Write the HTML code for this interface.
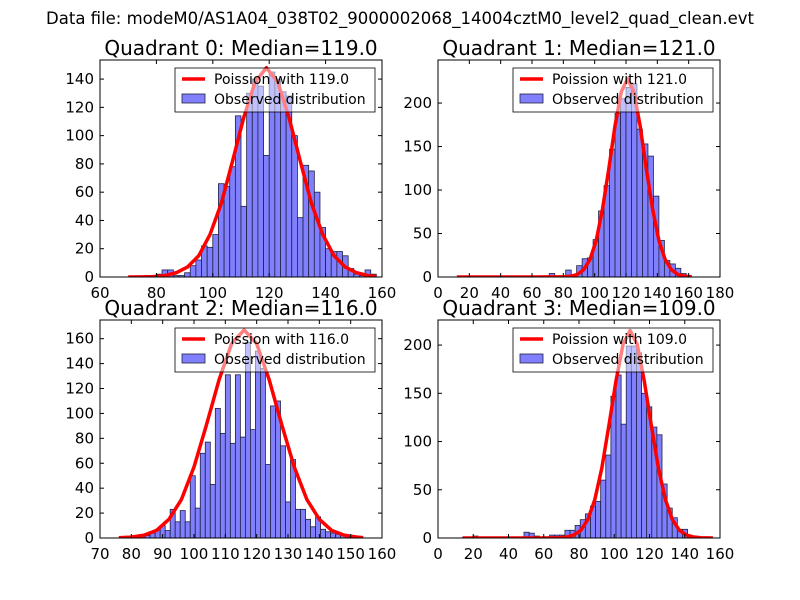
<!DOCTYPE html>
<html><head><meta charset="utf-8"><style>
body{margin:0;background:#fff;}
svg{display:block;font-family:"DejaVu Sans","Liberation Sans",sans-serif;}
</style></head><body>
<svg id="fig" width="800" height="600" viewBox="0 0 800 600">
<rect width="800" height="600" fill="#fff"/>
<text x="400" y="24" font-size="16.5" text-anchor="middle">Data file: modeM0/AS1A04_038T02_9000002068_14004cztM0_level2_quad_clean.evt</text>
</svg>
<script>
// Quadrant 0
const q0BinStart = 70, q0BinWidth = 2;
const q0Counts = [0,0,0,0,1,2,5,5,1,1,3,8,12,22,21,30,66,64,78,114,50,130,140,135,86,145,140,131,128,100,42,79,75,60,35,20,18,18,15,6,2,1,5,2];
const q0CurveX = [70,75,79,83,87,91,95,99,103,107,111,115,119,123,127,131,135,139,143,147,151,155,158];
const q0CurveY = [0,0.1,0.3,1,3,7,15,30,52,82,113,138,148,138,113,82,52,30,15,7,3,1,0.3];
const q0XTicks = [60,80,100,120,140,160];
const q0YTicks = [0,20,40,60,80,100,120,140];
// Quadrant 1
const q1BinStart = 71, q1BinWidth = 3.5;
const q1Counts = [4,1,0,8,1,13,21,22,43,76,105,147,188,205,218,222,170,153,139,93,42,19,15,10,4];
const q1CurveX = [12,60,81,85,89,93,97,101,105,109,113,117,121,125,129,133,137,141,145,149,153,157,162];
const q1CurveY = [0,0,0.3,1,3,8.4,20,42,78,124,174,213,228,213,174,124,78,42,20,8.4,3,1,0.3];
const q1XTicks = [0,20,40,60,80,100,120,140,160,180];
const q1YTicks = [0,50,100,150,200];
// Quadrant 2
const q2BinStart = 79.6, q2BinWidth = 1.6;
const q2Counts = [1,0,1,2,4,7,10,6,23,13,22,13,50,24,68,77,43,104,84,131,76,131,81,157,87,150,136,59,106,110,74,29,63,23,23,15,9,17,7,5,4,3,2,1];
const q2CurveX = [76,80,84,88,92,96,100,104,108,112,116,120,124,128,132,136,140,144,148,152,154];
const q2CurveY = [0.2,0.7,2.2,6,15,31,57,91,127,156,167,156,127,91,57,31,15,6,2.2,0.7,0.3];
const q2XTicks = [70,80,90,100,110,120,130,140,150,160];
const q2YTicks = [0,20,40,60,80,100,120,140,160];
// Quadrant 3
const q3BinStart = 14, q3BinWidth = 2.9;
const q3Counts = [1,0,2,0,0,0,1,1,1,1,0,1,6,5,2,0,1,3,3,3,8,8,13,19,25,33,38,60,86,147,169,118,199,199,192,150,136,115,107,56,31,21,9,9,1,1,1];
const q3CurveX = [14,60,69,73,77,81,85,89,93,97,101,105,109,113,117,121,125,129,133,137,141,145,149,156];
const q3CurveY = [0,0,0.3,1,3,8,19,40,73,117,163,201,215,201,163,117,73,40,19,8,3,1,0.3,0];
const q3XTicks = [0,20,40,60,80,100,120,140,160];
const q3YTicks = [0,50,100,150,200];

const NS = "http://www.w3.org/2000/svg";
const fig = document.getElementById('fig');
function mk(tag, attrs, parent){const e=document.createElementNS(NS,tag);for(const k in attrs)e.setAttribute(k,attrs[k]);(parent||fig).appendChild(e);return e;}

const panels = [
 {id:0,L:100,R:382,T:60,B:277,xmin:60,xmax:160,ymax:153.5,bs:q0BinStart,bw:q0BinWidth,counts:q0Counts,cx:q0CurveX,cy:q0CurveY,xt:q0XTicks,yt:q0YTicks,med:"119.0"},
 {id:1,L:438,R:720,T:60,B:277,xmin:0,xmax:180,ymax:249.5,bs:q1BinStart,bw:q1BinWidth,counts:q1Counts,cx:q1CurveX,cy:q1CurveY,xt:q1XTicks,yt:q1YTicks,med:"121.0"},
 {id:2,L:100,R:382,T:320,B:538,xmin:70,xmax:160,ymax:175,bs:q2BinStart,bw:q2BinWidth,counts:q2Counts,cx:q2CurveX,cy:q2CurveY,xt:q2XTicks,yt:q2YTicks,med:"116.0"},
 {id:3,L:438,R:720,T:320,B:538,xmin:0,xmax:160,ymax:226,bs:q3BinStart,bw:q3BinWidth,counts:q3Counts,cx:q3CurveX,cy:q3CurveY,xt:q3XTicks,yt:q3YTicks,med:"109.0"}
];

panels.forEach(p=>{
  const g = mk('g',{});
  
  
  const xs = v => p.L + (v-p.xmin)/(p.xmax-p.xmin)*(p.R-p.L);
  const ys = v => p.B - v/p.ymax*(p.B-p.T);
  const clipId='clip'+p.id;
  const defs=mk('defs',{},g);
  const cp=mk('clipPath',{id:clipId},defs);
  mk('rect',{x:p.L,y:p.T,width:p.R-p.L,height:p.B-p.T},cp);
  const plot=mk('g',{'clip-path':'url(#'+clipId+')'},g);
  p.counts.forEach((c,i)=>{
    if(c<=0) return;
    const x0=xs(p.bs+i*p.bw), x1=xs(p.bs+(i+1)*p.bw);
    const r=mk('rect',{x:x0,y:ys(c),width:x1-x0,height:ys(0)-ys(c),fill:'#8080ff',stroke:'#202040','stroke-width':0.8},plot);
    
    
  });
  const pts=p.cx.map((x,i)=>xs(x)+','+ys(p.cy[i])).join(' ');
  const line=mk('polyline',{points:pts,fill:'none',stroke:'#ff0000','stroke-width':3.5,'stroke-linejoin':'round'},plot);
  
  
  p.xt.forEach(t=>{
    const x=xs(t);
    mk('line',{x1:x,y1:p.B,x2:x,y2:p.B-4,stroke:'#000'},g);
    mk('line',{x1:x,y1:p.T,x2:x,y2:p.T+4,stroke:'#000'},g);
    const tx=mk('text',{x:x,y:p.B+21,'font-size':15,'text-anchor':'middle'},g);
    tx.textContent=t;
    
    
  });
  p.yt.forEach(t=>{
    const y=ys(t);
    mk('line',{x1:p.L,y1:y,x2:p.L+4,y2:y,stroke:'#000'},g);
    mk('line',{x1:p.R,y1:y,x2:p.R-4,y2:y,stroke:'#000'},g);
    const tx=mk('text',{x:p.L-6,y:y+5,'font-size':15,'text-anchor':'end'},g);
    tx.textContent=t;
    
    
  });
  mk('rect',{x:p.L,y:p.T,width:p.R-p.L,height:p.B-p.T,fill:'none',stroke:'#000','stroke-width':1},g);
  const title=mk('text',{x:(p.L+p.R)/2,y:p.T-5,'font-size':20,'text-anchor':'middle'},g);
  title.textContent='Quadrant '+p.id+': Median='+p.med;
  
  
  const lx=p.R-207, ly=p.T+8;
  const lg=mk('g',{},g);
  
  
  mk('rect',{x:lx,y:ly,width:200,height:44,fill:'rgba(255,255,255,0.5)',stroke:'#000','stroke-width':0.8},lg);
  mk('line',{x1:lx+7,y1:ly+11,x2:lx+30,y2:ly+11,stroke:'#ff0000','stroke-width':3.5},lg);
  const t1=mk('text',{x:lx+39,y:ly+16,'font-size':14},lg);
  t1.textContent='Poission with '+p.med;
  
  
  mk('rect',{x:lx+7,y:ly+26,width:23,height:9,fill:'#8080ff',stroke:'#202040','stroke-width':0.8},lg);
  const t2=mk('text',{x:lx+39,y:ly+36,'font-size':14},lg);
  t2.textContent='Observed distribution';
  
  
});
</script>
</body></html>
